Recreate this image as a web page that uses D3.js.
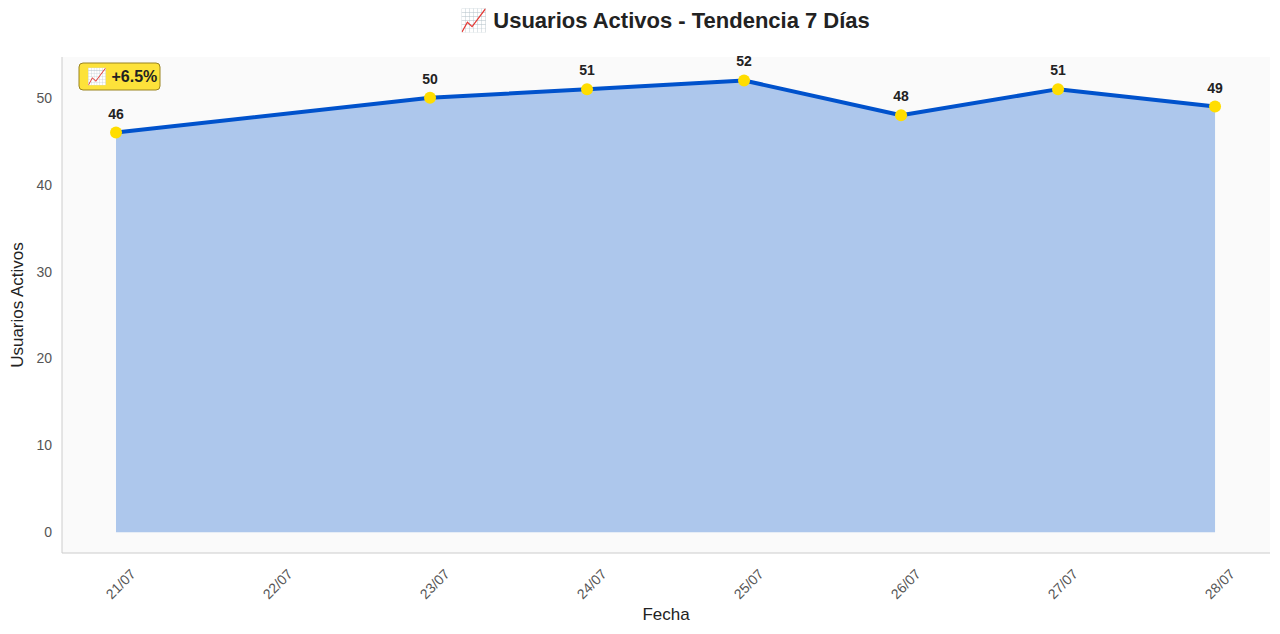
<!DOCTYPE html>
<html>
<head>
<meta charset="utf-8">
<script src="https://cdn.jsdelivr.net/npm/d3@7"></script>
<style>
  body { margin: 0; background: #fff; font-family: "Liberation Sans", Arial, sans-serif; }
  .axis text { fill: #555; font-size: 14px; }
  .axis path, .axis line { stroke: #ccc; }
</style>
</head>
<body>
<svg id="chart" width="1280" height="634"></svg>
<script>
var dates = ['2025-07-21', '2025-07-23', '2025-07-24', '2025-07-25', '2025-07-26', '2025-07-27', '2025-07-28'];
var users = [46, 50, 51, 52, 48, 51, 49];
var yTicks = [0, 10, 20, 30, 40, 50];
var title = '\u{1F4C8} Usuarios Activos - Tendencia 7 D\u00edas';
var badge = '\u{1F4C8} +6.5%';

var parse = d3.timeParse('%Y-%m-%d');
var data = dates.map(function(d, i) { return {date: parse(d), value: users[i]}; });

var margin = {left: 62, top: 57, right: 10, bottom: 81},
    width = 1280 - margin.left - margin.right,
    height = 634 - margin.top - margin.bottom;

var svg = d3.select('#chart');
var g = svg.append('g').attr('transform', 'translate(' + margin.left + ',' + margin.top + ')');

var day = 864e5;
var x0 = data[0].date, x1 = data[data.length - 1].date;
var scaleX = d3.scaleTime()
    .domain([new Date(+x0 - 0.344 * day), new Date(+x1 + 0.35 * day)])
    .range([0, width]);
var scaleY = d3.scaleLinear().domain([-2.4, 54.7]).range([height, 0]);

g.append('rect').attr('width', width).attr('height', height).attr('fill', '#fafafa');

// area + line
g.append('path').datum(data)
    .attr('fill', '#adc7ec')
    .attr('d', d3.area().x(function(d) { return scaleX(d.date); })
        .y0(scaleY(0)).y1(function(d) { return scaleY(d.value); }));
g.append('path').datum(data)
    .attr('fill', 'none').attr('stroke', '#0052cc').attr('stroke-width', 4)
    .attr('stroke-linejoin', 'round')
    .attr('d', d3.line().x(function(d) { return scaleX(d.date); }).y(function(d) { return scaleY(d.value); }));

g.selectAll('circle.pt').data(data).enter().append('circle')
    .attr('cx', function(d) { return scaleX(d.date); })
    .attr('cy', function(d) { return scaleY(d.value); })
    .attr('r', 6).attr('fill', '#ffdd00');

g.selectAll('text.lbl').data(data).enter().append('text')
    .attr('x', function(d) { return scaleX(d.date); })
    .attr('y', function(d) { return scaleY(d.value) - 14; })
    .attr('text-anchor', 'middle').attr('font-size', 14).attr('font-weight', 'bold').attr('fill', '#222')
    .text(function(d) { return d.value; });

// axes
var axisY = d3.axisLeft(scaleY).tickValues(yTicks).tickSize(0).tickPadding(10);
var $y = g.append('g').attr('class', 'axis').call(axisY);
$y.select('.domain').attr('d', 'M0,0V' + height);

var xTickVals = d3.timeDay.range(x0, new Date(+x1 + 1));
var axisX = d3.axisBottom(scaleX).tickValues(xTickVals).tickFormat(d3.timeFormat('%d/%m')).tickSize(0).tickPadding(10);
var $x = g.append('g').attr('class', 'axis').attr('transform', 'translate(0,' + height + ')').call(axisX);
$x.select('.domain').attr('d', 'M0,0H' + width);
$x.selectAll('text').attr('text-anchor', 'end')
    .attr('transform', 'translate(6,8) rotate(-45)');

// titles
svg.append('text').attr('x', 665).attr('y', 28).attr('text-anchor', 'middle')
    .attr('font-size', 22).attr('font-weight', 'bold').attr('fill', '#222').text(title);
svg.append('text').attr('x', margin.left + width / 2).attr('y', 620).attr('text-anchor', 'middle')
    .attr('font-size', 17).attr('fill', '#222').text('Fecha');
svg.append('text').attr('transform', 'translate(23,' + (margin.top + height / 2) + ') rotate(-90)')
    .attr('text-anchor', 'middle').attr('font-size', 17).attr('fill', '#222').text('Usuarios Activos');

// badge
var b = svg.append('g').attr('transform', 'translate(79,63)');
b.append('rect').attr('width', 81).attr('height', 27).attr('rx', 4)
    .attr('fill', '#fde23a').attr('stroke', '#9a8420').attr('stroke-width', 1);
b.append('text').attr('x', 8).attr('y', 19).attr('font-size', 16).attr('font-weight', 'bold')
    .attr('fill', '#222').text(badge);
</script>
</body>
</html>
